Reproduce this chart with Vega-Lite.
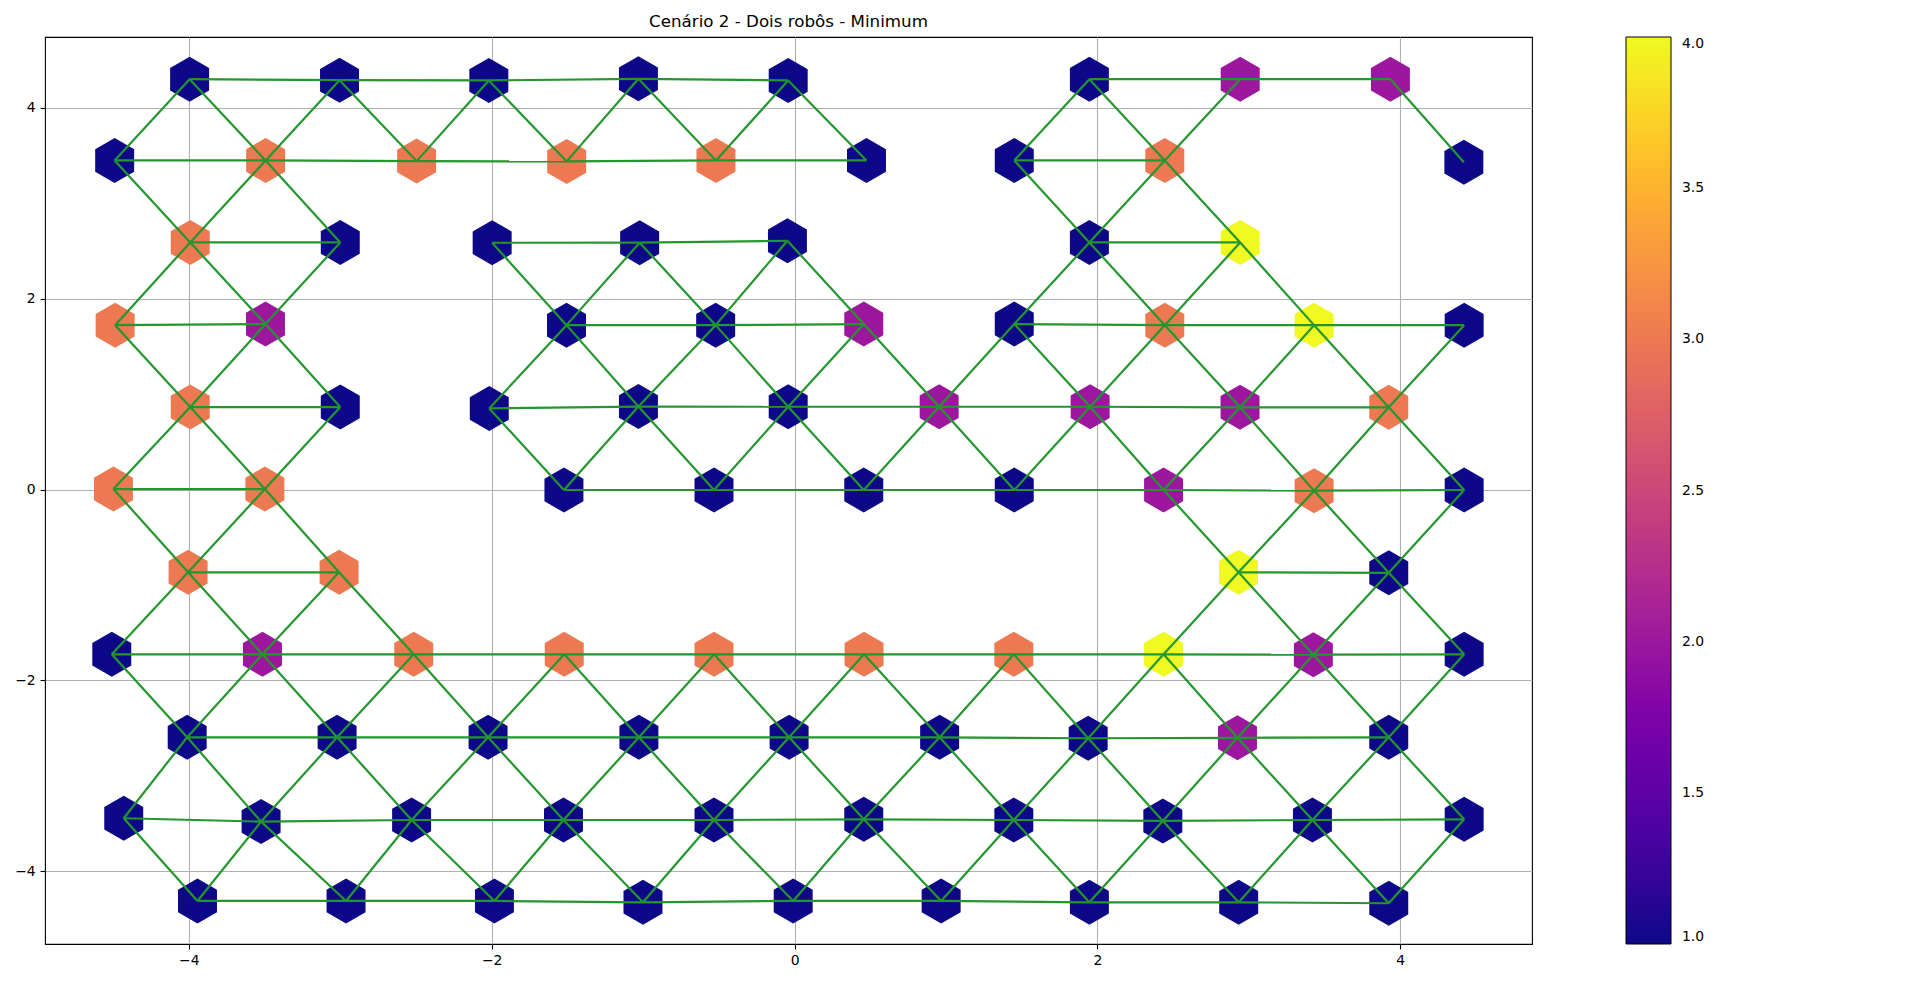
{
  "$schema": "https://vega.github.io/schema/vega-lite/v6.json",
  "width": 1487,
  "height": 907,
  "autosize": {"type": "none"},
  "padding": {"left": 45, "top": 37, "right": 388, "bottom": 39},
  "title": {
    "text": "Cenário 2 - Dois robôs - Minimum",
    "font": "DejaVu Sans",
    "fontSize": 16.7,
    "fontWeight": "normal",
    "color": "black",
    "anchor": "middle",
    "frame": "group",
    "offset": 6
  },
  "datasets": {
    "nodes": [
      {"id": "r0c0", "x": -3.995, "y": 4.298, "v": 1},
      {"id": "r0c1", "x": -3.005, "y": 4.288, "v": 1},
      {"id": "r0c2", "x": -2.019, "y": 4.285, "v": 1},
      {"id": "r0c3", "x": -1.031, "y": 4.302, "v": 1},
      {"id": "r0c4", "x": -0.042, "y": 4.285, "v": 1},
      {"id": "r0c6", "x": 1.947, "y": 4.298, "v": 1},
      {"id": "r0c7", "x": 2.943, "y": 4.298, "v": 2},
      {"id": "r0c8", "x": 3.935, "y": 4.298, "v": 2},
      {"id": "r1c0", "x": -4.49, "y": 3.447, "v": 1},
      {"id": "r1c1", "x": -3.493, "y": 3.447, "v": 3},
      {"id": "r1c2", "x": -2.496, "y": 3.44, "v": 3},
      {"id": "r1c3", "x": -1.505, "y": 3.437, "v": 3},
      {"id": "r1c4", "x": -0.519, "y": 3.447, "v": 3},
      {"id": "r1c5", "x": 0.475, "y": 3.447, "v": 1},
      {"id": "r1c6", "x": 1.451, "y": 3.447, "v": 1},
      {"id": "r1c7", "x": 2.445, "y": 3.447, "v": 3},
      {"id": "r1c9", "x": 4.42, "y": 3.429, "v": 1},
      {"id": "r2c0", "x": -3.991, "y": 2.588, "v": 3},
      {"id": "r2c1", "x": -3.0, "y": 2.588, "v": 1},
      {"id": "r2c2", "x": -1.997, "y": 2.585, "v": 1},
      {"id": "r2c3", "x": -1.023, "y": 2.586, "v": 1},
      {"id": "r2c4", "x": -0.047, "y": 2.606, "v": 1},
      {"id": "r2c6", "x": 1.947, "y": 2.588, "v": 1},
      {"id": "r2c7", "x": 2.943, "y": 2.588, "v": 4},
      {"id": "r3c0", "x": -4.487, "y": 1.722, "v": 3},
      {"id": "r3c1", "x": -3.494, "y": 1.733, "v": 2},
      {"id": "r3c3", "x": -1.506, "y": 1.722, "v": 1},
      {"id": "r3c4", "x": -0.521, "y": 1.722, "v": 1},
      {"id": "r3c5", "x": 0.457, "y": 1.733, "v": 2},
      {"id": "r3c6", "x": 1.451, "y": 1.733, "v": 1},
      {"id": "r3c7", "x": 2.445, "y": 1.722, "v": 3},
      {"id": "r3c8", "x": 3.431, "y": 1.722, "v": 4},
      {"id": "r3c9", "x": 4.422, "y": 1.722, "v": 1},
      {"id": "r4c0", "x": -3.991, "y": 0.864, "v": 3},
      {"id": "r4c1", "x": -3.0, "y": 0.864, "v": 1},
      {"id": "r4c2", "x": -2.016, "y": 0.85, "v": 1},
      {"id": "r4c3", "x": -1.031, "y": 0.869, "v": 1},
      {"id": "r4c4", "x": -0.042, "y": 0.867, "v": 1},
      {"id": "r4c5", "x": 0.955, "y": 0.867, "v": 2},
      {"id": "r4c6", "x": 1.952, "y": 0.867, "v": 2},
      {"id": "r4c7", "x": 2.942, "y": 0.861, "v": 2},
      {"id": "r4c8", "x": 3.924, "y": 0.861, "v": 3},
      {"id": "r5c0", "x": -4.498, "y": 0.005, "v": 3},
      {"id": "r5c1", "x": -3.498, "y": 0.005, "v": 3},
      {"id": "r5c3", "x": -1.523, "y": -0.005, "v": 1},
      {"id": "r5c4", "x": -0.532, "y": -0.005, "v": 1},
      {"id": "r5c5", "x": 0.457, "y": -0.005, "v": 1},
      {"id": "r5c6", "x": 1.451, "y": -0.005, "v": 1},
      {"id": "r5c7", "x": 2.437, "y": -0.005, "v": 2},
      {"id": "r5c8", "x": 3.431, "y": -0.012, "v": 3},
      {"id": "r5c9", "x": 4.422, "y": -0.005, "v": 1},
      {"id": "r6c0", "x": -4.005, "y": -0.867, "v": 3},
      {"id": "r6c1", "x": -3.008, "y": -0.867, "v": 3},
      {"id": "r6c7", "x": 2.932, "y": -0.867, "v": 4},
      {"id": "r6c8", "x": 3.924, "y": -0.872, "v": 1},
      {"id": "r7c0", "x": -4.509, "y": -1.726, "v": 1},
      {"id": "r7c1", "x": -3.514, "y": -1.726, "v": 2},
      {"id": "r7c2", "x": -2.515, "y": -1.726, "v": 3},
      {"id": "r7c3", "x": -1.521, "y": -1.726, "v": 3},
      {"id": "r7c4", "x": -0.532, "y": -1.726, "v": 3},
      {"id": "r7c5", "x": 0.459, "y": -1.726, "v": 3},
      {"id": "r7c6", "x": 1.448, "y": -1.726, "v": 3},
      {"id": "r7c7", "x": 2.437, "y": -1.726, "v": 4},
      {"id": "r7c8", "x": 3.426, "y": -1.73, "v": 2},
      {"id": "r7c9", "x": 4.422, "y": -1.726, "v": 1},
      {"id": "r8c0", "x": -4.011, "y": -2.595, "v": 1},
      {"id": "r8c1", "x": -3.021, "y": -2.595, "v": 1},
      {"id": "r8c2", "x": -2.024, "y": -2.595, "v": 1},
      {"id": "r8c3", "x": -1.028, "y": -2.595, "v": 1},
      {"id": "r8c4", "x": -0.036, "y": -2.595, "v": 1},
      {"id": "r8c5", "x": 0.958, "y": -2.595, "v": 1},
      {"id": "r8c6", "x": 1.939, "y": -2.605, "v": 1},
      {"id": "r8c7", "x": 2.925, "y": -2.6, "v": 2},
      {"id": "r8c8", "x": 3.924, "y": -2.595, "v": 1},
      {"id": "r9c0", "x": -4.43, "y": -3.443, "v": 1},
      {"id": "r9c1", "x": -3.523, "y": -3.478, "v": 1},
      {"id": "r9c2", "x": -2.529, "y": -3.461, "v": 1},
      {"id": "r9c3", "x": -1.526, "y": -3.461, "v": 1},
      {"id": "r9c4", "x": -0.532, "y": -3.461, "v": 1},
      {"id": "r9c5", "x": 0.457, "y": -3.454, "v": 1},
      {"id": "r9c6", "x": 1.448, "y": -3.461, "v": 1},
      {"id": "r9c7", "x": 2.432, "y": -3.471, "v": 1},
      {"id": "r9c8", "x": 3.42, "y": -3.461, "v": 1},
      {"id": "r9c9", "x": 4.422, "y": -3.454, "v": 1},
      {"id": "r10c0", "x": -3.943, "y": -4.309, "v": 1},
      {"id": "r10c1", "x": -2.962, "y": -4.309, "v": 1},
      {"id": "r10c2", "x": -1.982, "y": -4.309, "v": 1},
      {"id": "r10c3", "x": -1.001, "y": -4.323, "v": 1},
      {"id": "r10c4", "x": -0.009, "y": -4.309, "v": 1},
      {"id": "r10c5", "x": 0.968, "y": -4.309, "v": 1},
      {"id": "r10c6", "x": 1.947, "y": -4.323, "v": 1},
      {"id": "r10c7", "x": 2.933, "y": -4.323, "v": 1},
      {"id": "r10c8", "x": 3.924, "y": -4.333, "v": 1}
    ],
    "edges": [
      {"s": "r0c0", "t": "r0c1"}, {"s": "r0c1", "t": "r0c2"}, {"s": "r0c2", "t": "r0c3"}, {"s": "r0c3", "t": "r0c4"},
      {"s": "r0c6", "t": "r0c7"}, {"s": "r0c7", "t": "r0c8"},
      {"s": "r1c0", "t": "r1c1"}, {"s": "r1c1", "t": "r1c2"}, {"s": "r1c2", "t": "r1c3"}, {"s": "r1c3", "t": "r1c4"}, {"s": "r1c4", "t": "r1c5"},
      {"s": "r1c6", "t": "r1c7"},
      {"s": "r2c0", "t": "r2c1"}, {"s": "r2c2", "t": "r2c3"}, {"s": "r2c3", "t": "r2c4"}, {"s": "r2c6", "t": "r2c7"},
      {"s": "r3c0", "t": "r3c1"}, {"s": "r3c3", "t": "r3c4"}, {"s": "r3c4", "t": "r3c5"},
      {"s": "r3c6", "t": "r3c7"}, {"s": "r3c7", "t": "r3c8"}, {"s": "r3c8", "t": "r3c9"},
      {"s": "r4c0", "t": "r4c1"}, {"s": "r4c2", "t": "r4c3"}, {"s": "r4c3", "t": "r4c4"}, {"s": "r4c4", "t": "r4c5"},
      {"s": "r4c5", "t": "r4c6"}, {"s": "r4c6", "t": "r4c7"}, {"s": "r4c7", "t": "r4c8"},
      {"s": "r5c0", "t": "r5c1"}, {"s": "r5c3", "t": "r5c4"}, {"s": "r5c4", "t": "r5c5"}, {"s": "r5c5", "t": "r5c6"},
      {"s": "r5c6", "t": "r5c7"}, {"s": "r5c7", "t": "r5c8"}, {"s": "r5c8", "t": "r5c9"},
      {"s": "r6c0", "t": "r6c1"}, {"s": "r6c7", "t": "r6c8"},
      {"s": "r7c0", "t": "r7c1"}, {"s": "r7c1", "t": "r7c2"}, {"s": "r7c2", "t": "r7c3"}, {"s": "r7c3", "t": "r7c4"}, {"s": "r7c4", "t": "r7c5"},
      {"s": "r7c5", "t": "r7c6"}, {"s": "r7c6", "t": "r7c7"}, {"s": "r7c7", "t": "r7c8"}, {"s": "r7c8", "t": "r7c9"},
      {"s": "r8c0", "t": "r8c1"}, {"s": "r8c1", "t": "r8c2"}, {"s": "r8c2", "t": "r8c3"}, {"s": "r8c3", "t": "r8c4"},
      {"s": "r8c4", "t": "r8c5"}, {"s": "r8c5", "t": "r8c6"}, {"s": "r8c6", "t": "r8c7"}, {"s": "r8c7", "t": "r8c8"},
      {"s": "r9c0", "t": "r9c1"}, {"s": "r9c1", "t": "r9c2"}, {"s": "r9c2", "t": "r9c3"}, {"s": "r9c3", "t": "r9c4"}, {"s": "r9c4", "t": "r9c5"},
      {"s": "r9c5", "t": "r9c6"}, {"s": "r9c6", "t": "r9c7"}, {"s": "r9c7", "t": "r9c8"}, {"s": "r9c8", "t": "r9c9"},
      {"s": "r10c0", "t": "r10c1"}, {"s": "r10c1", "t": "r10c2"}, {"s": "r10c2", "t": "r10c3"}, {"s": "r10c3", "t": "r10c4"},
      {"s": "r10c4", "t": "r10c5"}, {"s": "r10c5", "t": "r10c6"}, {"s": "r10c6", "t": "r10c7"}, {"s": "r10c7", "t": "r10c8"},
      {"s": "r0c0", "t": "r1c0"}, {"s": "r0c0", "t": "r1c1"}, {"s": "r0c1", "t": "r1c1"}, {"s": "r0c1", "t": "r1c2"},
      {"s": "r0c2", "t": "r1c2"}, {"s": "r0c2", "t": "r1c3"}, {"s": "r0c3", "t": "r1c3"}, {"s": "r0c3", "t": "r1c4"},
      {"s": "r0c4", "t": "r1c4"}, {"s": "r0c4", "t": "r1c5"}, {"s": "r0c6", "t": "r1c6"}, {"s": "r0c6", "t": "r1c7"},
      {"s": "r0c7", "t": "r1c7"}, {"s": "r0c8", "t": "r1c9"},
      {"s": "r1c0", "t": "r2c0"}, {"s": "r1c1", "t": "r2c0"}, {"s": "r1c1", "t": "r2c1"},
      {"s": "r1c6", "t": "r2c6"}, {"s": "r1c7", "t": "r2c6"}, {"s": "r1c7", "t": "r2c7"},
      {"s": "r2c0", "t": "r3c0"}, {"s": "r2c0", "t": "r3c1"}, {"s": "r2c1", "t": "r3c1"},
      {"s": "r2c2", "t": "r3c3"}, {"s": "r2c3", "t": "r3c3"}, {"s": "r2c3", "t": "r3c4"},
      {"s": "r2c4", "t": "r3c4"}, {"s": "r2c4", "t": "r3c5"},
      {"s": "r2c6", "t": "r3c6"}, {"s": "r2c6", "t": "r3c7"}, {"s": "r2c7", "t": "r3c7"}, {"s": "r2c7", "t": "r3c8"},
      {"s": "r3c0", "t": "r4c0"}, {"s": "r3c1", "t": "r4c0"}, {"s": "r3c1", "t": "r4c1"},
      {"s": "r3c3", "t": "r4c2"}, {"s": "r3c3", "t": "r4c3"}, {"s": "r3c4", "t": "r4c3"}, {"s": "r3c4", "t": "r4c4"},
      {"s": "r3c5", "t": "r4c4"}, {"s": "r3c5", "t": "r4c5"}, {"s": "r3c6", "t": "r4c5"}, {"s": "r3c6", "t": "r4c6"},
      {"s": "r3c7", "t": "r4c6"}, {"s": "r3c7", "t": "r4c7"}, {"s": "r3c8", "t": "r4c7"}, {"s": "r3c8", "t": "r4c8"},
      {"s": "r3c9", "t": "r4c8"},
      {"s": "r4c0", "t": "r5c0"}, {"s": "r4c0", "t": "r5c1"}, {"s": "r4c1", "t": "r5c1"},
      {"s": "r4c2", "t": "r5c3"}, {"s": "r4c3", "t": "r5c3"}, {"s": "r4c3", "t": "r5c4"},
      {"s": "r4c4", "t": "r5c4"}, {"s": "r4c4", "t": "r5c5"}, {"s": "r4c5", "t": "r5c5"}, {"s": "r4c5", "t": "r5c6"},
      {"s": "r4c6", "t": "r5c6"}, {"s": "r4c6", "t": "r5c7"}, {"s": "r4c7", "t": "r5c7"}, {"s": "r4c7", "t": "r5c8"},
      {"s": "r4c8", "t": "r5c8"}, {"s": "r4c8", "t": "r5c9"},
      {"s": "r5c0", "t": "r6c0"}, {"s": "r5c1", "t": "r6c0"}, {"s": "r5c1", "t": "r6c1"},
      {"s": "r5c7", "t": "r6c7"}, {"s": "r5c8", "t": "r6c7"}, {"s": "r5c8", "t": "r6c8"}, {"s": "r5c9", "t": "r6c8"},
      {"s": "r6c0", "t": "r7c0"}, {"s": "r6c0", "t": "r7c1"}, {"s": "r6c1", "t": "r7c1"}, {"s": "r6c1", "t": "r7c2"},
      {"s": "r6c7", "t": "r7c7"}, {"s": "r6c7", "t": "r7c8"}, {"s": "r6c8", "t": "r7c8"}, {"s": "r6c8", "t": "r7c9"},
      {"s": "r7c0", "t": "r8c0"}, {"s": "r7c1", "t": "r8c0"}, {"s": "r7c1", "t": "r8c1"}, {"s": "r7c2", "t": "r8c1"},
      {"s": "r7c2", "t": "r8c2"}, {"s": "r7c3", "t": "r8c2"}, {"s": "r7c3", "t": "r8c3"}, {"s": "r7c4", "t": "r8c3"},
      {"s": "r7c4", "t": "r8c4"}, {"s": "r7c5", "t": "r8c4"}, {"s": "r7c5", "t": "r8c5"}, {"s": "r7c6", "t": "r8c5"},
      {"s": "r7c6", "t": "r8c6"}, {"s": "r7c7", "t": "r8c6"}, {"s": "r7c7", "t": "r8c7"}, {"s": "r7c8", "t": "r8c7"},
      {"s": "r7c8", "t": "r8c8"}, {"s": "r7c9", "t": "r8c8"},
      {"s": "r8c0", "t": "r9c0"}, {"s": "r8c0", "t": "r9c1"}, {"s": "r8c1", "t": "r9c1"}, {"s": "r8c1", "t": "r9c2"},
      {"s": "r8c2", "t": "r9c2"}, {"s": "r8c2", "t": "r9c3"}, {"s": "r8c3", "t": "r9c3"}, {"s": "r8c3", "t": "r9c4"},
      {"s": "r8c4", "t": "r9c4"}, {"s": "r8c4", "t": "r9c5"}, {"s": "r8c5", "t": "r9c5"}, {"s": "r8c5", "t": "r9c6"},
      {"s": "r8c6", "t": "r9c6"}, {"s": "r8c6", "t": "r9c7"}, {"s": "r8c7", "t": "r9c7"}, {"s": "r8c7", "t": "r9c8"},
      {"s": "r8c8", "t": "r9c8"}, {"s": "r8c8", "t": "r9c9"},
      {"s": "r9c0", "t": "r10c0"}, {"s": "r9c1", "t": "r10c0"}, {"s": "r9c1", "t": "r10c1"}, {"s": "r9c2", "t": "r10c1"},
      {"s": "r9c2", "t": "r10c2"}, {"s": "r9c3", "t": "r10c2"}, {"s": "r9c3", "t": "r10c3"}, {"s": "r9c4", "t": "r10c3"},
      {"s": "r9c4", "t": "r10c4"}, {"s": "r9c5", "t": "r10c4"}, {"s": "r9c5", "t": "r10c5"}, {"s": "r9c6", "t": "r10c5"},
      {"s": "r9c6", "t": "r10c6"}, {"s": "r9c7", "t": "r10c6"}, {"s": "r9c7", "t": "r10c7"}, {"s": "r9c8", "t": "r10c7"},
      {"s": "r9c8", "t": "r10c8"}, {"s": "r9c9", "t": "r10c8"}
    ]
  },
  "layer": [
    {
      "data": {"name": "nodes"},
      "mark": {
        "type": "point",
        "shape": "M0,-1L0.866,-0.5L0.866,0.5L0,1L-0.866,0.5L-0.866,-0.5Z",
        "filled": true,
        "opacity": 1,
        "size": 2025,
        "strokeWidth": 0
      },
      "encoding": {
        "x": {"field": "x", "type": "quantitative", "scale": {"domain": [-4.95, 4.87], "nice": false, "zero": false},
              "axis": {"values": [-4, -2, 0, 2, 4], "format": "d", "title": null}},
        "y": {"field": "y", "type": "quantitative", "scale": {"domain": [-4.76, 4.74], "nice": false, "zero": false},
              "axis": {"values": [-4, -2, 0, 2, 4], "format": "d", "title": null}},
        "color": {
          "field": "v",
          "type": "quantitative",
          "scale": {"scheme": "plasma", "domain": [1, 4]},
          "legend": {
            "orient": "none",
            "legendX": 1581,
            "legendY": 0,
            "direction": "vertical",
            "title": null,
            "gradientLength": 907,
            "gradientThickness": 45,
            "gradientStrokeColor": "black",
            "gradientStrokeWidth": 1,
            "values": [1, 1.5, 2, 2.5, 3, 3.5, 4],
            "format": ".1f",
            "labelFont": "DejaVu Sans",
            "labelFontSize": 13.9,
            "labelColor": "black",
            "labelOffset": 11,
            "encode": {
              "labels": {"baseline": {"value": "middle"}}
            }
          }
        }
      }
    },
    {
      "data": {"name": "edges"},
      "transform": [
        {"lookup": "s", "from": {"data": {"name": "nodes"}, "key": "id", "fields": ["x", "y"]}, "as": ["sx", "sy"]},
        {"lookup": "t", "from": {"data": {"name": "nodes"}, "key": "id", "fields": ["x", "y"]}, "as": ["tx", "ty"]}
      ],
      "mark": {"type": "rule", "color": "#23962e", "strokeWidth": 2.2},
      "encoding": {
        "x": {"field": "sx", "type": "quantitative"},
        "y": {"field": "sy", "type": "quantitative"},
        "x2": {"field": "tx"},
        "y2": {"field": "ty"}
      }
    }
  ],
  "config": {
    "view": {"stroke": "black", "strokeWidth": 1.1},
    "axis": {
      "grid": true,
      "gridColor": "#b0b0b0",
      "gridWidth": 1.1,
      "domain": false,
      "ticks": true,
      "tickColor": "black",
      "tickSize": 4.9,
      "tickWidth": 1.1,
      "labelFont": "DejaVu Sans",
      "labelFontSize": 13.9,
      "labelColor": "black",
      "labelPadding": 4.9
    }
  }
}
